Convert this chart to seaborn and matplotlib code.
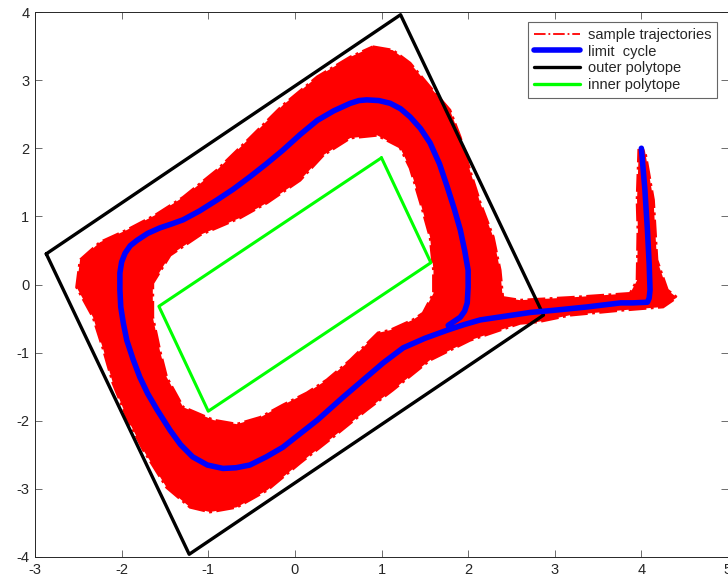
import numpy as np
import matplotlib
matplotlib.use("Agg")
import matplotlib.pyplot as plt
from matplotlib.path import Path
from matplotlib.patches import PathPatch
from matplotlib.lines import Line2D
import seaborn as sns

# limit cycle (including the transient from the start point at (4, 2))
cycle_x = [4.00, 4.04, 4.07, 4.09, 4.10, 4.09, 4.07, 3.90, 3.76, 3.37, 2.98, 2.72,
           2.14, 1.95, 1.76, 1.50, 1.25, 1.02, 0.79, 0.56, 0.26, 0.06, -0.14,
           -0.33, -0.52, -0.68, -0.83, -1.01, -1.18, -1.32, -1.44, -1.59, -1.70,
           -1.79, -1.87, -1.94, -1.98, -2.01, -2.02, -2.02, -2.00, -1.96, -1.90,
           -1.82, -1.70, -1.56, -1.42, -1.29, -1.10, -0.90, -0.71, -0.52, -0.33,
           -0.14, 0.06, 0.26, 0.45, 0.64, 0.74, 0.83, 0.97, 1.10, 1.22, 1.33,
           1.45, 1.56, 1.67, 1.76, 1.84, 1.91, 1.96, 2.00, 2.00, 1.99, 1.96,
           1.91, 1.77]
cycle_y = [2.00, 1.40, 0.80, 0.30, -0.08, -0.20, -0.26, -0.27, -0.27, -0.33,
           -0.38, -0.41, -0.52, -0.59, -0.67, -0.79, -0.93, -1.15, -1.40, -1.65,
           -1.99, -2.19, -2.39, -2.53, -2.65, -2.69, -2.70, -2.65, -2.53, -2.35,
           -2.14, -1.84, -1.60, -1.36, -1.09, -0.82, -0.57, -0.33, -0.08, 0.17,
           0.33, 0.46, 0.57, 0.65, 0.75, 0.83, 0.89, 0.95, 1.08, 1.24, 1.40,
           1.58, 1.77, 1.97, 2.20, 2.41, 2.55, 2.66, 2.70, 2.71, 2.70, 2.66,
           2.58, 2.46, 2.29, 2.08, 1.77, 1.43, 1.11, 0.80, 0.50, 0.21, -0.04,
           -0.27, -0.39, -0.48, -0.60]

# polytopes (corners)
outer_x = [-2.87, 1.22, 2.87, -1.22, -2.87]
outer_y = [0.45, 3.96, -0.45, -3.96, 0.45]
inner_x = [1.00, 1.57, -1.00, -1.57, 1.00]
inner_y = [1.86, 0.32, -1.86, -0.32, 1.86]

# envelope of the sample trajectories (outer edge and edge of the hole)
band_out_x = [0.90, 1.13, 1.33, 1.56, 1.79, 1.91, 2.02, 2.14, 2.29, 2.37, 2.40,
              2.60, 3.18, 3.87, 3.95, 3.96, 3.95, 3.97, 4.04, 4.14, 4.16, 4.18,
              4.30, 4.41, 4.25, 3.76, 3.18, 2.80, 2.60, 2.02, 1.56, 1.13, 0.83,
              0.44, 0.06, -0.32, -0.67, -0.98, -1.21, -1.48, -1.75, -1.94, -2.10,
              -2.21, -2.33, -2.52, -2.48, -2.25, -1.94, -1.61, -1.29, -0.90,
              -0.52, -0.14, 0.26, 0.64]
band_out_y = [3.49, 3.44, 3.25, 2.90, 2.56, 2.16, 1.68, 1.20, 0.70, 0.21, -0.19,
              -0.23, -0.19, -0.13, 0.06, 0.80, 1.24, 1.97, 1.97, 1.24, 0.80, 0.36,
              -0.08, -0.19, -0.33, -0.38, -0.45, -0.55, -0.57, -0.82, -1.11,
              -1.55, -1.84, -2.24, -2.62, -3.02, -3.27, -3.34, -3.27, -2.98,
              -2.43, -1.95, -1.45, -0.96, -0.48, -0.04, 0.36, 0.62, 0.80, 1.02,
              1.28, 1.68, 2.15, 2.63, 3.05, 3.34]
band_in_x = [0.64, 0.95, 1.21, 1.33, 1.45, 1.56, 1.60, 1.60, 1.48, 1.36, 1.10,
             0.96, 0.64, 0.37, 0.14, -0.14, -0.40, -0.67, -0.94, -1.29, -1.48,
             -1.56, -1.64, -1.64, -1.44, -1.09, -0.63, -0.32, 0.06, 0.33]
band_in_y = [2.15, 2.19, 2.02, 1.71, 1.20, 0.70, 0.21, -0.13, -0.42, -0.52,
             -0.67, -0.71, -1.11, -1.40, -1.59, -1.77, -1.95, -2.05, -1.99,
             -1.80, -1.36, -0.96, -0.48, 0.02, 0.43, 0.73, 0.98, 1.20, 1.53, 1.90]

labels = ["sample trajectories", "limit  cycle", "outer polytope", "inner polytope"]

sns.set_theme(style="ticks")
plt.rcParams["font.family"] = ["Liberation Sans", "DejaVu Sans"]
plt.rcParams["axes.unicode_minus"] = False

fig = plt.figure(figsize=(7.28, 5.87), dpi=100)
ax = fig.add_axes([35 / 728, 30 / 587, 693 / 728, 545 / 587])

red = "#ff0000"

# red envelope with a hole
ring_out = np.column_stack([band_out_x + band_out_x[:1], band_out_y + band_out_y[:1]])
ring_in = np.column_stack([band_in_x[::-1] + band_in_x[-1:], band_in_y[::-1] + band_in_y[-1:]])
verts = np.vstack([ring_out, ring_in])
codes = ([Path.MOVETO] + [Path.LINETO] * (len(ring_out) - 2) + [Path.CLOSEPOLY] +
         [Path.MOVETO] + [Path.LINETO] * (len(ring_in) - 2) + [Path.CLOSEPOLY])
ax.add_patch(PathPatch(Path(verts, codes), facecolor=red, edgecolor=red,
                       linewidth=2.0, linestyle="-.", zorder=1))

sns.lineplot(x=outer_x, y=outer_y, sort=False, estimator=None, ax=ax,
             color="black", linewidth=2.4, zorder=3)
sns.lineplot(x=inner_x, y=inner_y, sort=False, estimator=None, ax=ax,
             color="#00ff00", linewidth=2.2, zorder=3)
sns.lineplot(x=cycle_x, y=cycle_y, sort=False, estimator=None, ax=ax,
             color="#0000ff", linewidth=4.0, zorder=4)
for ln in ax.lines:
    ln.set_solid_joinstyle("round")
    ln.set_solid_capstyle("round")

ax.set_xlim(-3, 5)
ax.set_ylim(-4, 4)
ax.set_xticks(range(-3, 6))
ax.set_yticks(range(-4, 5))
ax.tick_params(direction="in", length=5, width=0.6, color="#555555",
               labelsize=10.5, labelcolor="#262626", top=True, right=True, pad=4)
for s in ax.spines.values():
    s.set_linewidth(0.7)
    s.set_color("#262626")

handles = [
    Line2D([], [], color=red, linestyle="-.", linewidth=1.3),
    Line2D([], [], color="#0000ff", linewidth=4.0),
    Line2D([], [], color="black", linewidth=2.4),
    Line2D([], [], color="#00ff00", linewidth=2.4),
]
leg = ax.legend(handles, labels, loc="upper right", bbox_to_anchor=(0.984, 0.982),
                borderaxespad=0, fancybox=False, framealpha=1, edgecolor="#666666",
                fontsize=10.5, handlelength=3.2, handletextpad=0.5, labelspacing=0.2,
                borderpad=0.4)
leg.get_frame().set_linewidth(0.8)

fig.savefig("out.png", dpi=100)
